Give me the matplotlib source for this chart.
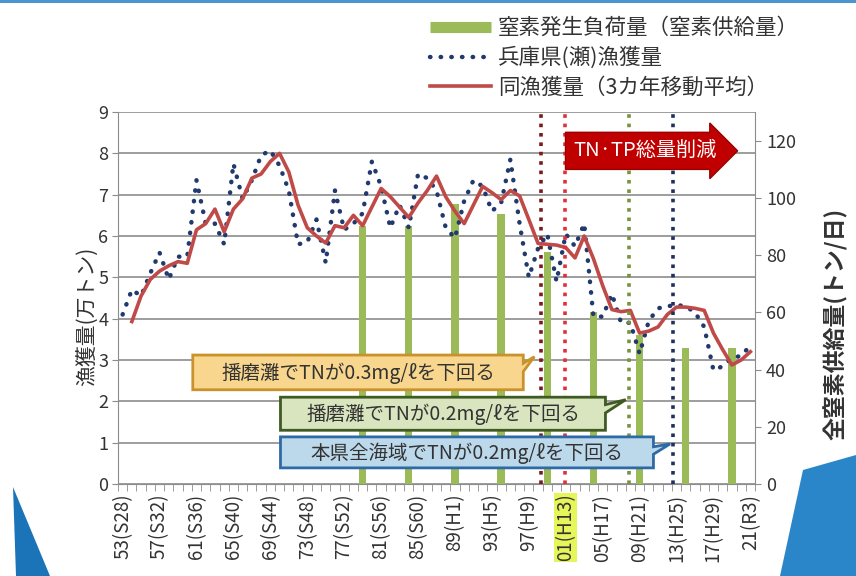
import numpy as np
import matplotlib.pyplot as plt
from matplotlib.lines import Line2D
from matplotlib.patches import Polygon

plt.rcParams['font.family'] = ['Noto Sans CJK JP', 'DejaVu Sans']

# 兵庫県(瀬)漁獲量 (万トン), 1953-2021
years = list(range(1953, 2022))
catch = [4.1, 4.7, 4.55, 5.1, 5.6, 4.95, 5.5, 5.5, 7.35, 6.3,
         6.3, 5.8, 7.75, 6.9, 7.35, 7.95, 8.07, 7.7, 7.1, 5.8,
         5.85, 6.4, 5.35, 7.1, 6.15, 6.3, 6.55, 7.8, 7.2, 6.2,
         6.75, 6.2, 7.5, 7.4, 7.1, 6.2, 5.95, 6.85, 7.35, 7.2,
         6.6, 6.8, 7.85, 6.3, 5.0, 5.7, 6.05, 4.9, 6.05, 5.75,
         6.3, 4.05, 4.05, 4.6, 3.9, 3.9, 3.15, 3.95, 4.25, 4.3,
         4.33, 4.3, 4.15, 3.8, 2.75, 2.85, 3.05, 3.1, 3.35]

# 3カ年移動平均, 1954-2021
avg_years = list(range(1954, 2022))
catch_avg = [3.93, 4.55, 4.95, 5.15, 5.28, 5.38, 5.34, 6.15, 6.3, 6.65,
             6.1, 6.65, 6.9, 7.4, 7.5, 7.8, 8.0, 7.55, 6.75, 6.2,
             6.0, 5.83, 6.25, 6.2, 6.5, 6.25, 6.7, 7.15, 6.95, 6.7,
             6.45, 6.8, 7.1, 7.45, 6.95, 6.6, 6.3, 6.75, 7.2, 7.05,
             6.88, 7.1, 6.97, 6.4, 5.82, 5.8, 5.78, 5.72, 5.47, 6.0,
             5.45, 4.8, 4.22, 4.17, 4.2, 3.65, 3.7, 3.8, 4.1, 4.28,
             4.28, 4.25, 4.2, 3.65, 3.25, 2.88, 3.0, 3.2]

# 窒素発生負荷量 (トン/日)
load_years = [1979, 1984, 1989, 1994, 1999, 2004, 2009, 2014, 2019]
n_load = [90, 90, 98, 94.5, 81, 60, 52, 47.5, 47.5]

tick_years = list(range(1953, 2022, 4))
tick_labels = ['53(S28)', '57(S32)', '61(S36)', '65(S40)', '69(S44)', '73(S48)',
               '77(S52)', '81(S56)', '85(S60)', '89(H1)', '93(H5)', '97(H9)',
               '01(H13)', '05(H17)', '09(H21)', '13(H25)', '17(H29)', '21(R3)']

# event lines
event_x = [1998.33, 2000.93, 2007.8, 2012.6]
event_colors = ['#7a1a1a', '#e0303a', '#77933c', '#1f3060']

bar_color = '#9bbb59'
dot_color = '#213a6e'
red_color = '#bf4a47'
grid_color = '#8c8c8c'
text_color = '#333333'
dot_style = (0, (0.1, 2.3))

W, H = 856, 576
fig = plt.figure(figsize=(W / 100, H / 100), dpi=100)
pos = [118 / W, 1 - 484 / H, (755 - 118) / W, (484 - 112) / H]

ax = fig.add_axes(pos)
ax.set_zorder(1)
axb = ax.twinx()
axb.set_zorder(2)
axl = fig.add_axes(pos, sharex=ax, sharey=ax)
axl.set_zorder(3)
axl.axis('off')
axl.patch.set_visible(False)

# left axis: grid, ticks
ax.set_xlim(1952.5, 2021.5)
ax.set_ylim(0, 9)
ax.set_yticks(range(0, 10))
ax.yaxis.grid(True, color=grid_color, lw=1.2)
ax.set_axisbelow(True)
ax.spines['top'].set_visible(False)
ax.spines['right'].set_visible(False)
ax.spines['left'].set_color(grid_color)
ax.spines['bottom'].set_color(grid_color)
ax.tick_params(axis='y', length=4, color=grid_color, labelsize=13,
               labelcolor=text_color, pad=3)
ax.set_xticks(tick_years)
ax.set_xticklabels(tick_labels, rotation=90, fontsize=13.5, color=text_color)
ax.set_xticks(np.arange(1952.5, 2022, 1), minor=True)
ax.tick_params(axis='x', which='major', length=0, pad=7)
ax.tick_params(axis='x', which='minor', length=5, color=grid_color)
ax.set_ylabel('漁獲量(万トン)', fontsize=15, color=text_color)
ax.yaxis.set_label_coords(-0.031, 0.45)
for lab in ax.get_xticklabels():
    if lab.get_text() == '01(H13)':
        lab.set_bbox(dict(boxstyle='square,pad=0.05', fc='#e6f55a', ec='none'))

# right axis: bars
axb.bar(load_years, n_load, width=0.8, color=bar_color, zorder=2)
axb.set_ylim(0, 130)
axb.set_yticks(range(0, 121, 20))
for s in ['top', 'left', 'bottom']:
    axb.spines[s].set_visible(False)
axb.spines['right'].set_color(grid_color)
axb.tick_params(axis='y', length=4, color=grid_color, labelsize=13,
                labelcolor=text_color, pad=4)
axb.set_ylabel('全窒素供給量(トン/日)', fontsize=16.5, color=text_color,
               fontweight='bold')
axb.yaxis.set_label_coords(1.108, 0.43)

# lines
axl.plot(years, catch, color=dot_color, lw=3.2, linestyle=dot_style,
         dash_capstyle='round', zorder=3)
axl.plot(avg_years, catch_avg, color=red_color, lw=2.6, zorder=4)

for x, c in zip(event_x, event_colors):
    axl.axvline(x, color=c, lw=2.6, linestyle=(0, (1, 1.6)),
                dash_capstyle='butt', zorder=5)


def callout(x0, x1, y0, y1, b0, b1, tip, text, fc, ec):
    pts = [(x0, y0), (x1, y0), (x1, b0), tip, (x1, b1), (x1, y1), (x0, y1)]
    axl.add_patch(Polygon(pts, closed=True, fc=fc, ec=ec, lw=2, zorder=6))
    axl.text((x0 + x1) / 2, (y0 + y1) / 2 - 0.02, text, ha='center',
             va='center', fontsize=14, color=text_color, zorder=7)


callout(1960.6, 1996.4, 2.28, 3.12, 2.72, 2.92, (1997.6, 3.08),
        '播磨灘でTNが0.3mg/ℓを下回る', '#f8d68e', '#c9922a')
callout(1970.1, 2005.3, 1.3, 2.1, 1.72, 1.92, (2007.5, 2.04),
        '播磨灘でTNが0.2mg/ℓを下回る', '#d9e5bf', '#3f5a22')
callout(1970.1, 2010.5, 0.39, 1.14, 0.72, 0.9, (2012.3, 0.97),
        '本県全海域でTNが0.2mg/ℓを下回る', '#bcd9ec', '#2e6aa6')

axl.text(2009.6, 8.06, 'TN·TP総量削減', ha='center', va='center', fontsize=14.5,
         color='white', zorder=8,
         bbox=dict(boxstyle='rarrow,pad=0.4', fc='#c00000', ec='#9a0000', lw=1))

# legend
handles = [Line2D([], [], color=bar_color, lw=8, solid_capstyle='butt'),
           Line2D([], [], color=dot_color, lw=3.2, linestyle=dot_style,
                  dash_capstyle='round'),
           Line2D([], [], color=red_color, lw=2.6)]
labels = ['窒素発生負荷量（窒素供給量）', '兵庫県(瀬)漁獲量', '同漁獲量（3カ年移動平均）']
fig.legend(handles, labels, loc='upper left', bbox_to_anchor=(413 / W, 1.0),
           frameon=False, fontsize=15.5, handlelength=2.8, handletextpad=0.35,
           labelspacing=0.35, borderpad=0.3, labelcolor=text_color)


# slide decoration
def px_poly(pts, color):
    fig.patches.append(Polygon([(x / W, 1 - y / H) for x, y in pts], closed=True,
                               fc=color, ec='none', transform=fig.transFigure))


px_poly([(0, 0), (W, 0), (W, 3), (0, 3)], '#4a94cf')
px_poly([(13, 487), (50, 576), (16, 576)], '#1b74b8')
px_poly([(803, 470), (W, 455), (W, 576), (780, 576)], '#2a86c8')

fig.savefig('out.png', dpi=100)
